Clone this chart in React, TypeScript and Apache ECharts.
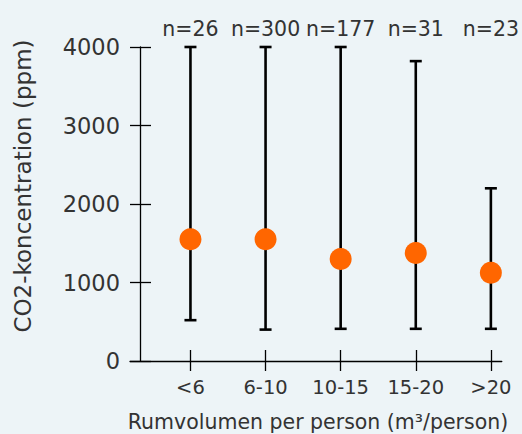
import React, { useEffect, useRef } from "react";
import * as echarts from "echarts";

const categories = ["<6", "6-10", "10-15", "15-20", ">20"];
const sampleSizes = [26, 300, 177, 31, 23];
const meanValues = [1550, 1550, 1300, 1375, 1125];
const lowValues = [520, 400, 410, 410, 410];
const highValues = [4000, 4000, 4000, 3820, 2200];
const yTicks = [0, 1000, 2000, 3000, 4000];

const FONT = "DejaVu Sans";
const TEXT = "#333333";

export default function App() {
  const ref = useRef<HTMLDivElement>(null);
  useEffect(() => {
    if (!ref.current) return;
    document.body.style.margin = "0";
    const chart = echarts.init(ref.current, undefined, { renderer: "svg" });
    const positions = categories.map((_, i) => i + 1);
    const barData = positions.map((p, i) => [p, lowValues[i], highValues[i]]);
    const meanData = positions.map((p, i) => [p, meanValues[i]]);
    const xMin = 0.195;
    const xMax = 5.145;
    const tickLine = { color: "#000", width: 1.3 };
    chart.setOption({
      animation: false,
      backgroundColor: "#edf4f7",
      textStyle: { fontFamily: FONT },
      grid: { left: 130, right: 17, top: 47, bottom: 73 },
      xAxis: [
        {
          type: "value",
          min: xMin,
          max: xMax,
          position: "bottom",
          splitLine: { show: false },
          axisLine: { show: true, onZero: false, lineStyle: tickLine },
          axisTick: { show: true, length: 10, customValues: positions, lineStyle: tickLine },
          axisLabel: {
            customValues: positions,
            formatter: (v: number) => categories[Math.round(v) - 1] ?? "",
            fontSize: 19.5,
            color: TEXT,
            fontFamily: FONT,
            margin: 16,
          },
        },
        {
          type: "value",
          min: xMin,
          max: xMax,
          position: "bottom",
          splitLine: { show: false },
          axisLine: { show: false, onZero: false },
          axisTick: { show: true, inside: true, length: 11, customValues: positions, lineStyle: tickLine },
          axisLabel: { show: false },
        },
        {
          type: "value",
          min: xMin,
          max: xMax,
          position: "top",
          splitLine: { show: false },
          axisLine: { show: false, onZero: false },
          axisTick: { show: false },
          axisLabel: {
            customValues: positions,
            formatter: (v: number) => "n=" + sampleSizes[Math.round(v) - 1],
            fontSize: 20.5,
            color: TEXT,
            fontFamily: FONT,
            margin: 8,
          },
        },
      ],
      yAxis: [
        {
          type: "value",
          position: "left",
          min: yTicks[0],
          max: yTicks[yTicks.length - 1],
          interval: 1000,
          offset: -10,
          splitLine: { show: false },
          axisLine: { show: true, onZero: false, lineStyle: tickLine },
          axisTick: { show: true, length: 10, lineStyle: tickLine },
          axisLabel: {
            fontSize: 22.5,
            color: TEXT,
            fontFamily: FONT,
            margin: 20,
            formatter: (v: number) => String(v),
          },
        },
        {
          type: "value",
          position: "left",
          min: yTicks[0],
          max: yTicks[yTicks.length - 1],
          interval: 1000,
          offset: -10,
          splitLine: { show: false },
          axisLine: { show: false, onZero: false },
          axisTick: { show: true, inside: true, length: 11, lineStyle: tickLine },
          axisLabel: { show: false },
        },
      ],
      graphic: [
        {
          type: "text",
          x: 23,
          y: 186,
          rotation: Math.PI / 2,
          style: {
            text: "CO2-koncentration (ppm)",
            fill: TEXT,
            font: `23px "${FONT}"`,
            textAlign: "center",
            textVerticalAlign: "middle",
          },
        },
        {
          type: "text",
          x: 318,
          y: 422,
          style: {
            text: "Rumvolumen per person (m³/person)",
            fill: TEXT,
            font: `20.5px "${FONT}"`,
            textAlign: "center",
            textVerticalAlign: "middle",
          },
        },
      ],
      series: [
        {
          type: "custom",
          xAxisIndex: 0,
          yAxisIndex: 0,
          data: barData,
          renderItem: (params: any, api: any) => {
            const x = api.value(0);
            const lo = api.coord([x, api.value(1)]);
            const hi = api.coord([x, api.value(2)]);
            const half = 6;
            const style = { stroke: "#000", lineWidth: 2.6 };
            return {
              type: "group",
              children: [
                { type: "line", shape: { x1: lo[0], y1: lo[1], x2: hi[0], y2: hi[1] }, style },
                { type: "line", shape: { x1: lo[0] - half, y1: lo[1], x2: lo[0] + half, y2: lo[1] }, style },
                { type: "line", shape: { x1: hi[0] - half, y1: hi[1], x2: hi[0] + half, y2: hi[1] }, style },
              ],
            };
          },
          z: 2,
        },
        {
          type: "scatter",
          xAxisIndex: 0,
          yAxisIndex: 0,
          data: meanData,
          symbol: "circle",
          symbolSize: 22,
          itemStyle: { color: "#ff6600", opacity: 1 },
          z: 3,
        },
      ],
    });
    return () => chart.dispose();
  }, []);
  return <div ref={ref} style={{ width: 522, height: 434 }} />;
}
